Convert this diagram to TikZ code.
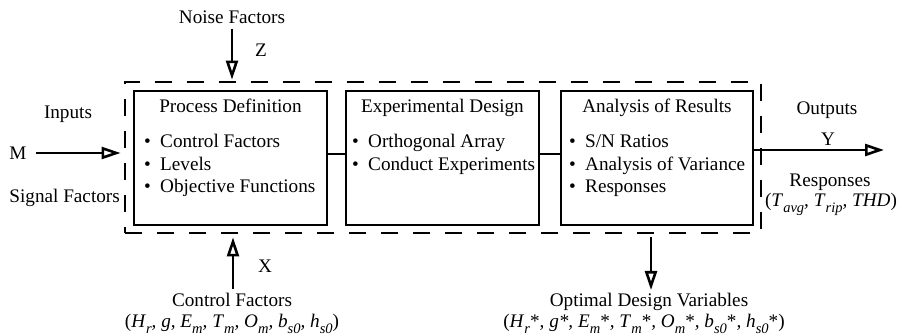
\documentclass[tikz,border=0pt]{standalone}
\usepackage{fontspec}
\setmainfont{Liberation Serif}
\usetikzlibrary{arrows.meta}

% italic variable with a lowered italic subscript
\newcommand{\lowsub}[1]{\raisebox{-0.6ex}{\fontsize{14.5}{14.5}\selectfont\itshape #1}}
\newcommand{\vr}[2]{\textit{#1}\lowsub{#2}}
\newcommand{\itm}[1]{\makebox[16pt][l]{\textbullet}#1}

\tikzset{
  stage/.style={draw, line width=2.6pt, minimum width=193pt, minimum height=134pt, inner sep=0pt},
  envelope/.style={draw, line width=2.8pt, dash pattern=on 17pt off 15pt,
                   minimum width=636pt, minimum height=151pt, inner sep=0pt},
  flow/.style={line width=2.8pt, -{Triangle[open, length=19pt, width=12pt, line width=2.6pt]}},
  link/.style={line width=2.6pt},
  lbl/.style={inner sep=0pt, anchor=base},
  bul/.style={inner sep=0pt, anchor=base west},
}

\begin{document}
\begin{tikzpicture}[x=1pt, y=-1pt, font=\fontsize{19.2}{22.5}\selectfont]
  \useasboundingbox (0,0) rectangle (903,336);

  % dashed system boundary
  \node[envelope] (env) at (443,157.5) {};

  % the three stages
  \node[stage] (pd) at (230.5,158) {};
  \node[stage] (ed) at (442.5,158) {};
  \node[stage, minimum width=192pt] (ar) at (657,158) {};

  \draw[link] ([yshift=4pt]pd.east) -- ([yshift=4pt]ed.west);
  \draw[link] ([yshift=4pt]ed.east) -- ([yshift=4pt]ar.west);

  % stage contents
  \node[lbl] (pdt) at (230.5,113) {Process Definition};
  \node[bul] (pd1) at (144,148) {\itm{Control Factors}};
  \node[bul] (pd2) at (144,170.5) {\itm{Levels}};
  \node[bul] (pd3) at (144,193) {\itm{Objective Functions}};

  \node[lbl] (edt) at (442.5,113) {Experimental Design};
  \node[bul] (ed1) at (352,148) {\itm{Orthogonal Array}};
  \node[bul] (ed2) at (352,170.5) {\itm{Conduct Experiments}};

  \node[lbl] (art) at (657,113) {Analysis of Results};
  \node[bul] (ar1) at (569,148) {\itm{S/N Ratios}};
  \node[bul] (ar2) at (569,170.5) {\itm{Analysis of Variance}};
  \node[bul] (ar3) at (569,193) {\itm{Responses}};

  % noise factors from above
  \node[lbl] (noise) at (232,24) {Noise Factors};
  \node[lbl] (z) at (261,57) {Z};
  \coordinate (zsrc) at (232,29);
  \draw[flow, shorten >=1pt] (zsrc) -- (zsrc |- env.north);

  % signal inputs from the left
  \node[lbl] (inputs) at (68,119) {Inputs};
  \node[lbl] (m) at (18,160) {M};
  \node[lbl, anchor=base east] (signal) at (120,203) {Signal Factors};
  \coordinate (msrc) at (36,153);
  \draw[flow, shorten >=3pt] (msrc) -- (msrc -| env.west);

  % outputs to the right
  \node[lbl] (outputs) at (827,115) {Outputs};
  \node[lbl] (y) at (828,146) {Y};
  \node[lbl] (resp) at (830,187) {Responses};
  \node[lbl] (respv) at (831,207) {(\vr{T}{avg}\textit{, }\vr{T}{rip}\textit{, THD})};
  \coordinate (ydst) at (884,150);
  \draw[flow] (ar.east |- ydst) -- (ydst);

  % control factors from below
  \node[lbl] (x) at (265,273) {X};
  \node[lbl] (ctrl) at (232,307) {Control Factors};
  \node[lbl] (ctrlv) at (232,328) {(\vr{H}{r}\textit{, g, }\vr{E}{m}\textit{, }\vr{T}{m}\textit{, }\vr{O}{m}\textit{, }\vr{b}{s0}\textit{, }\vr{h}{s0})};
  \coordinate (xsrc) at (233,289);
  \draw[flow, shorten >=3pt] (xsrc) -- (xsrc |- env.south);

  % optimal design variables out of the bottom
  \node[lbl] (opt) at (649,307) {Optimal Design Variables};
  \node[lbl] (optv) at (644,328) {(\vr{H}{r}*\textit{, g*, }\vr{E}{m}*\textit{, }\vr{T}{m}*\textit{, }\vr{O}{m}*\textit{, }\vr{b}{s0}*\textit{, }\vr{h}{s0}*)};
  \coordinate (odst) at (651,290);
  \draw[flow, shorten <=3pt] (odst |- env.south) -- (odst);
\end{tikzpicture}
\end{document}
